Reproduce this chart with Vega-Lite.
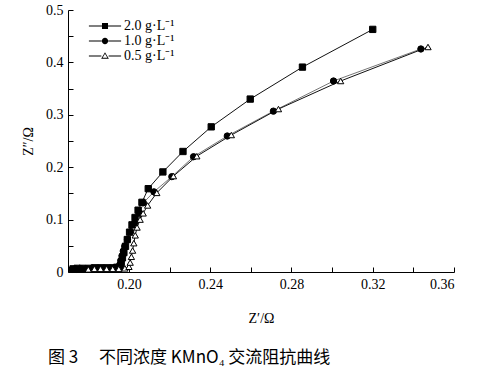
{
  "$schema": "https://vega.github.io/schema/vega-lite/v6.json",
  "width": 386,
  "height": 262,
  "autosize": {"type": "none"},
  "padding": {"left": 68, "top": 10, "right": 24, "bottom": 104},
  "background": "white",
  "config": {
    "view": {"stroke": null},
    "font": "Liberation Serif",
    "axis": {
      "domainColor": "black",
      "domainWidth": 1,
      "tickColor": "black",
      "tickWidth": 1,
      "tickSize": -5,
      "grid": false,
      "labelFont": "Liberation Serif",
      "labelFontSize": 14,
      "labelColor": "black",
      "titleFont": "Liberation Serif",
      "titleFontSize": 14,
      "titleFontWeight": "normal",
      "titleColor": "black",
      "labelPadding": 10
    }
  },
  "title": {
    "text": "图 3　 不同浓度 KMnO₄ 交流阻抗曲线",
    "orient": "bottom",
    "anchor": "start",
    "frame": "group",
    "dx": -20,
    "offset": 25,
    "font": "Noto Sans CJK SC",
    "fontSize": 17,
    "fontWeight": "normal",
    "color": "black"
  },
  "datasets": {
    "eis": [
      {"s": "2.0 g·L⁻¹", "x": 0.1725, "y": 0.006},
      {"s": "2.0 g·L⁻¹", "x": 0.1745, "y": 0.007},
      {"s": "2.0 g·L⁻¹", "x": 0.177, "y": 0.007},
      {"s": "2.0 g·L⁻¹", "x": 0.18, "y": 0.007},
      {"s": "2.0 g·L⁻¹", "x": 0.183, "y": 0.008},
      {"s": "2.0 g·L⁻¹", "x": 0.186, "y": 0.008},
      {"s": "2.0 g·L⁻¹", "x": 0.189, "y": 0.008},
      {"s": "2.0 g·L⁻¹", "x": 0.192, "y": 0.008},
      {"s": "2.0 g·L⁻¹", "x": 0.194, "y": 0.009},
      {"s": "2.0 g·L⁻¹", "x": 0.1958, "y": 0.011},
      {"s": "2.0 g·L⁻¹", "x": 0.1962, "y": 0.018},
      {"s": "2.0 g·L⁻¹", "x": 0.1968, "y": 0.027},
      {"s": "2.0 g·L⁻¹", "x": 0.1975, "y": 0.037},
      {"s": "2.0 g·L⁻¹", "x": 0.1983, "y": 0.049},
      {"s": "2.0 g·L⁻¹", "x": 0.1992, "y": 0.062},
      {"s": "2.0 g·L⁻¹", "x": 0.2003, "y": 0.076},
      {"s": "2.0 g·L⁻¹", "x": 0.2015, "y": 0.09},
      {"s": "2.0 g·L⁻¹", "x": 0.203, "y": 0.104},
      {"s": "2.0 g·L⁻¹", "x": 0.2045, "y": 0.118},
      {"s": "2.0 g·L⁻¹", "x": 0.2064, "y": 0.133},
      {"s": "2.0 g·L⁻¹", "x": 0.2095, "y": 0.159},
      {"s": "2.0 g·L⁻¹", "x": 0.2167, "y": 0.191},
      {"s": "2.0 g·L⁻¹", "x": 0.2266, "y": 0.23},
      {"s": "2.0 g·L⁻¹", "x": 0.2405, "y": 0.277},
      {"s": "2.0 g·L⁻¹", "x": 0.2597, "y": 0.33},
      {"s": "2.0 g·L⁻¹", "x": 0.2854, "y": 0.391},
      {"s": "2.0 g·L⁻¹", "x": 0.32, "y": 0.463},

      {"s": "1.0 g·L⁻¹", "x": 0.172, "y": 0.005},
      {"s": "1.0 g·L⁻¹", "x": 0.174, "y": 0.005},
      {"s": "1.0 g·L⁻¹", "x": 0.1765, "y": 0.006},
      {"s": "1.0 g·L⁻¹", "x": 0.179, "y": 0.006},
      {"s": "1.0 g·L⁻¹", "x": 0.182, "y": 0.007},
      {"s": "1.0 g·L⁻¹", "x": 0.185, "y": 0.007},
      {"s": "1.0 g·L⁻¹", "x": 0.188, "y": 0.007},
      {"s": "1.0 g·L⁻¹", "x": 0.191, "y": 0.007},
      {"s": "1.0 g·L⁻¹", "x": 0.1935, "y": 0.008},
      {"s": "1.0 g·L⁻¹", "x": 0.195, "y": 0.009},
      {"s": "1.0 g·L⁻¹", "x": 0.1955, "y": 0.014},
      {"s": "1.0 g·L⁻¹", "x": 0.196, "y": 0.022},
      {"s": "1.0 g·L⁻¹", "x": 0.1966, "y": 0.031},
      {"s": "1.0 g·L⁻¹", "x": 0.1972, "y": 0.04},
      {"s": "1.0 g·L⁻¹", "x": 0.1979, "y": 0.049},
      {"s": "1.0 g·L⁻¹", "x": 0.1993, "y": 0.062},
      {"s": "1.0 g·L⁻¹", "x": 0.2008, "y": 0.077},
      {"s": "1.0 g·L⁻¹", "x": 0.2028, "y": 0.094},
      {"s": "1.0 g·L⁻¹", "x": 0.2053, "y": 0.112},
      {"s": "1.0 g·L⁻¹", "x": 0.2071, "y": 0.132},
      {"s": "1.0 g·L⁻¹", "x": 0.2123, "y": 0.153},
      {"s": "1.0 g·L⁻¹", "x": 0.2211, "y": 0.182},
      {"s": "1.0 g·L⁻¹", "x": 0.2318, "y": 0.22},
      {"s": "1.0 g·L⁻¹", "x": 0.2484, "y": 0.2595},
      {"s": "1.0 g·L⁻¹", "x": 0.2711, "y": 0.307},
      {"s": "1.0 g·L⁻¹", "x": 0.3007, "y": 0.3645},
      {"s": "1.0 g·L⁻¹", "x": 0.3437, "y": 0.4256},

      {"s": "0.5 g·L⁻¹", "x": 0.18, "y": 0.005},
      {"s": "0.5 g·L⁻¹", "x": 0.183, "y": 0.006},
      {"s": "0.5 g·L⁻¹", "x": 0.186, "y": 0.006},
      {"s": "0.5 g·L⁻¹", "x": 0.189, "y": 0.006},
      {"s": "0.5 g·L⁻¹", "x": 0.192, "y": 0.006},
      {"s": "0.5 g·L⁻¹", "x": 0.195, "y": 0.006},
      {"s": "0.5 g·L⁻¹", "x": 0.198, "y": 0.007},
      {"s": "0.5 g·L⁻¹", "x": 0.2, "y": 0.01},
      {"s": "0.5 g·L⁻¹", "x": 0.2006, "y": 0.018},
      {"s": "0.5 g·L⁻¹", "x": 0.2012, "y": 0.029},
      {"s": "0.5 g·L⁻¹", "x": 0.2018, "y": 0.041},
      {"s": "0.5 g·L⁻¹", "x": 0.2024, "y": 0.055},
      {"s": "0.5 g·L⁻¹", "x": 0.2031, "y": 0.07},
      {"s": "0.5 g·L⁻¹", "x": 0.204, "y": 0.085},
      {"s": "0.5 g·L⁻¹", "x": 0.2055, "y": 0.1},
      {"s": "0.5 g·L⁻¹", "x": 0.207, "y": 0.112},
      {"s": "0.5 g·L⁻¹", "x": 0.2092, "y": 0.127},
      {"s": "0.5 g·L⁻¹", "x": 0.2137, "y": 0.151},
      {"s": "0.5 g·L⁻¹", "x": 0.2219, "y": 0.183},
      {"s": "0.5 g·L⁻¹", "x": 0.2334, "y": 0.221},
      {"s": "0.5 g·L⁻¹", "x": 0.2504, "y": 0.2614},
      {"s": "0.5 g·L⁻¹", "x": 0.2736, "y": 0.311},
      {"s": "0.5 g·L⁻¹", "x": 0.3042, "y": 0.3645},
      {"s": "0.5 g·L⁻¹", "x": 0.3472, "y": 0.4294}
    ]
  },
  "data": {"name": "eis"},
  "encoding": {
    "x": {
      "field": "x",
      "type": "quantitative",
      "scale": {"domain": [0.17, 0.36], "nice": false, "zero": false},
      "axis": {
        "title": "Z′/Ω",
        "values": [0.18, 0.2, 0.22, 0.24, 0.26, 0.28, 0.3, 0.32, 0.34, 0.36],
        "labelExpr": "round(datum.value*100)%4==0 ? format(datum.value,'.2f') : ''",
        "titlePadding": 20
      }
    },
    "y": {
      "field": "y",
      "type": "quantitative",
      "scale": {"domain": [0, 0.5], "nice": false},
      "axis": {
        "title": "Z″/Ω",
        "values": [0, 0.05, 0.1, 0.15, 0.2, 0.25, 0.3, 0.35, 0.4, 0.45, 0.5],
        "labelExpr": "round(datum.value*100)%10==0 ? (datum.value==0 ? '0' : format(datum.value,'.1f')) : ''",
        "titlePadding": 10
      }
    }
  },
  "resolve": {"scale": {"shape": "independent"}, "legend": {"shape": "independent"}},
  "layer": [
    {
      "mark": {"type": "line", "strokeWidth": 1},
      "encoding": {
        "detail": {"field": "s", "type": "nominal"},
        "stroke": {
          "condition": {"test": "slice(datum.s,0,3)=='1.0'", "value": "#777777"},
          "value": "#111111"
        }
      }
    },
    {
      "mark": {"type": "point", "filled": true, "stroke": "black", "strokeWidth": 1, "opacity": 1, "fillOpacity": 1},
      "encoding": {
        "shape": {
          "field": "s",
          "type": "nominal",
          "scale": {"domain": ["2.0 g·L⁻¹", "1.0 g·L⁻¹", "0.5 g·L⁻¹"], "range": ["square", "circle", "triangle-up"]},
          "legend": null
        },
        "fill": {
          "condition": {"test": "slice(datum.s,0,3)=='0.5'", "value": "white"},
          "value": "black"
        },
        "size": {"value": 40}
      }
    },
    {
      "transform": [{"filter": "datum.x < 0"}],
      "mark": {"type": "point", "filled": true, "color": "black"},
      "encoding": {
        "shape": {
          "field": "s",
          "type": "nominal",
          "scale": {
            "domain": ["2.0 g·L⁻¹", "1.0 g·L⁻¹", "0.5 g·L⁻¹"],
            "range": [
              "M-2.3,-0.07H-0.43V0.07H-2.3ZM0.43,-0.07H2.3V0.07H0.43ZM-0.43,-0.43H0.43V0.43H-0.43Z",
              "M-2.3,-0.07H-0.43V0.07H-2.3ZM0.43,-0.07H2.3V0.07H0.43ZM-0.45,0A0.45,0.45,0,1,0,0.45,0A0.45,0.45,0,1,0,-0.45,0Z",
              "M-2.3,-0.07H-0.52V0.07H-2.3ZM0.52,-0.07H2.3V0.07H0.52ZM0,-0.55L0.55,0.38L-0.55,0.38ZM0,-0.32L-0.34,0.26L0.34,0.26Z"
            ]
          },
          "legend": {
            "title": null,
            "orient": "none",
            "legendX": 29,
            "legendY": 8,
            "symbolSize": 196,
            "symbolFillColor": "black",
            "symbolOpacity": 1,
            "labelFont": "Liberation Serif",
            "labelFontSize": 14,
            "labelColor": "black",
            "labelOffset": 11,
            "rowPadding": -7,
            "padding": 0
          }
        }
      }
    }
  ]
}
